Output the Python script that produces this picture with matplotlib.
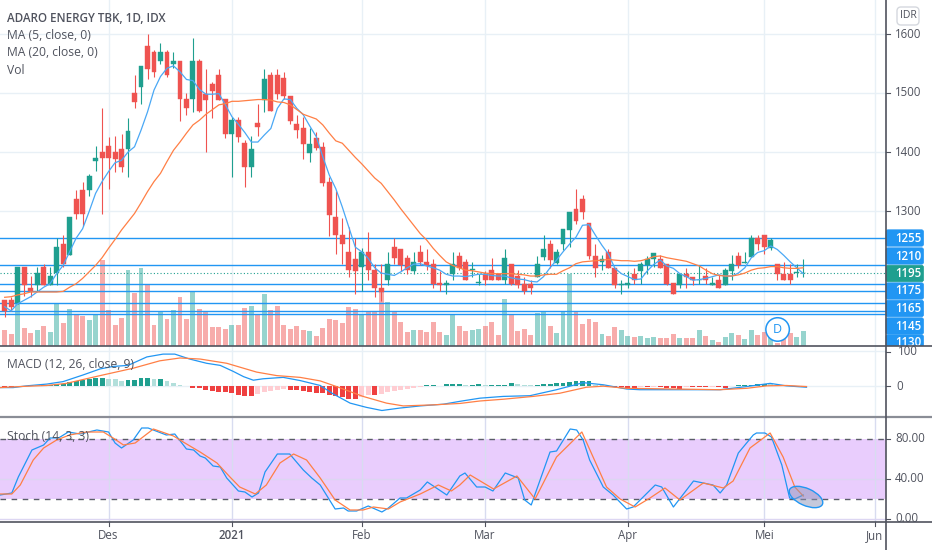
import matplotlib
matplotlib.use('Agg')
import matplotlib.pyplot as plt
import numpy as np
from matplotlib.patches import Ellipse, FancyBboxPatch
from matplotlib.transforms import Bbox

plt.rcParams['font.family'] = ['Open Sans', 'DejaVu Sans']

# price candles, one value per bar
opens = [1150,1150,1145,1205,1170,1175,1205,1175,1195,1245,1225,1320,1335,1335,1385,1400,1410,1400,1405,1405,
         1500,1510,1580,1570,1555,1570,1550,1555,1490,1490,1555,1498,1515,1530,1490,1430,1455,1415,1375,1449,
         1488,1530,1530,1525,1495,1448,1440,1399,1424,1409,1350,1290,1260,1230,1219,1205,1230,1200,1170,1183,
         1240,1235,1220,1199,1230,1214,1210,1179,1175,1193,1224,1214,1200,1178,1194,1200,1194,1183,1210,1190,
         1176,1176,1188,1223,1245,1212,1244,1268,1304,1320,1280,1224,1213,1230,1204,1175,1175,1194,1199,1208,
         1219,1219,1210,1179,1175,1194,1189,1183,1190,1175,1184,1175,1199,1224,1212,1222,1254,1259,1238,1210,
         1194,1194,1195,1195]
highs = [1150,1155,1205,1205,1190,1205,1210,1205,1255,1260,1290,1335,1350,1363,1410,1475,1425,1427,1430,1458,
         1530,1545,1600,1573,1585,1573,1570,1555,1500,1593,1558,1540,1518,1540,1490,1460,1460,1420,1428,1482,
         1540,1535,1540,1535,1495,1462,1460,1440,1434,1417,1358,1334,1289,1273,1254,1237,1264,1210,1211,1230,
         1255,1235,1225,1230,1242,1235,1219,1199,1184,1230,1230,1219,1214,1194,1199,1220,1194,1235,1210,1200,
         1189,1184,1224,1259,1251,1235,1269,1299,1338,1328,1280,1245,1225,1235,1204,1184,1199,1204,1214,1224,
         1229,1225,1210,1179,1194,1204,1189,1208,1204,1189,1192,1204,1225,1230,1230,1259,1259,1259,1255,1210,
         1214,1210,1210,1219]
lows = [1120,1130,1143,1157,1155,1165,1175,1175,1175,1205,1225,1287,1275,1325,1368,1295,1338,1367,1366,1358,
        1474,1482,1523,1527,1550,1527,1542,1453,1463,1468,1468,1400,1458,1488,1423,1358,1417,1340,1358,1428,
        1468,1470,1490,1490,1448,1424,1389,1384,1403,1343,1258,1228,1211,1188,1159,1164,1183,1154,1147,1175,
        1211,1199,1194,1194,1208,1200,1169,1165,1159,1184,1200,1183,1188,1175,1175,1183,1183,1177,1175,1169,
        1159,1159,1188,1218,1204,1210,1234,1240,1279,1287,1219,1188,1200,1204,1169,1159,1169,1177,1177,1194,
        1206,1204,1175,1159,1169,1170,1175,1177,1176,1175,1170,1175,1183,1204,1212,1222,1234,1228,1234,1184,
        1183,1177,1188,1188]
closes = [1130,1138,1205,1175,1165,1195,1175,1190,1240,1210,1290,1295,1295,1360,1390,1390,1390,1388,1375,1435,
          1485,1545,1540,1535,1570,1530,1555,1490,1475,1555,1470,1488,1503,1488,1430,1455,1425,1375,1405,1443,
          1523,1470,1498,1495,1453,1438,1413,1413,1407,1348,1293,1260,1245,1200,1199,1230,1200,1170,1163,1210,
          1220,1208,1200,1213,1213,1208,1177,1175,1179,1210,1204,1183,1202,1180,1184,1183,1183,1220,1177,1175,
          1165,1169,1210,1235,1218,1230,1269,1299,1283,1299,1224,1204,1219,1204,1175,1176,1179,1184,1210,1219,
          1229,1204,1177,1159,1194,1189,1183,1184,1184,1179,1170,1200,1210,1208,1214,1255,1245,1240,1251,1194,
          1183,1183,1197,1196]
volumes = [49,37,127,55,40,47,59,42,127,70,112,92,89,79,92,257,109,64,85,229,
           159,235,185,64,102,82,107,147,80,164,112,103,57,58,50,64,64,115,119,94,
           157,107,119,62,52,61,49,46,30,55,82,79,70,116,110,94,103,102,167,131,
           102,73,42,49,47,42,73,42,33,97,59,46,49,52,59,73,33,141,92,46,
           52,33,98,103,59,40,103,216,103,65,82,71,37,31,56,49,31,27,31,24,
           27,25,25,37,24,24,24,49,31,17,13,27,40,33,21,47,33,42,27,9,
           27,40,27,46]

ma5 = [1138,1131,1143,1149,1155,1163,1171,1177,1194,1208,1231,1254,1270,1299,1330,1350,1367,1382,1386,1400,
       1409,1437,1468,1505,1528,1542,1546,1536,1523,1521,1506,1498,1498,1499,1480,1460,1447,1433,1417,1417,
       1429,1440,1474,1490,1489,1474,1463,1444,1426,1392,1361,1338,1307,1273,1239,1231,1220,1204,1195,1193,
       1191,1197,1204,1210,1211,1207,1204,1200,1193,1190,1190,1189,1191,1193,1193,1191,1190,1190,1187,1185,
       1184,1181,1180,1189,1204,1217,1231,1244,1256,1276,1277,1259,1242,1227,1203,1194,1189,1184,1185,1199,
       1210,1217,1207,1203,1194,1189,1183,1184,1186,1189,1192,1190,1190,1195,1204,1221,1230,1233,1241,1235,
       1225,1214,1204,1194]
ma20 = [1154,1155,1158,1160,1163,1163,1163,1163,1163,1164,1171,1177,1186,1197,1208,1221,1237,1252,1268,1282,
        1296,1314,1333,1350,1364,1384,1403,1417,1432,1446,1454,1464,1472,1480,1482,1486,1486,1487,1488,1489,
        1489,1488,1485,1484,1480,1472,1464,1460,1456,1446,1432,1419,1415,1403,1391,1380,1368,1356,1347,1333,
        1319,1304,1290,1276,1262,1251,1237,1225,1214,1208,1204,1200,1199,1197,1195,1194,1194,1194,1194,1193,
        1192,1190,1190,1192,1193,1193,1199,1204,1211,1214,1215,1216,1217,1218,1217,1216,1216,1215,1216,1219,
        1223,1224,1221,1219,1217,1215,1211,1207,1200,1194,1191,1190,1190,1192,1195,1200,1203,1204,1206,1206,
        1204,1203,1203,1204]

level_lines = [1255, 1208, 1177, 1165, 1145, 1130, 1125]
last_price = 1195
price_labels = ['1255', '1210', '1195', '1175', '1165', '1145', '1130']

macd_hist = [-3,-3,0,1,3,2,2,2,5,5,12,15,17,20,22,23,20,19,16,18,
             18,23,23,20,20,14,10,4,0,-4,-4,-12,-13,-16,-17,-20,-24,-27,-28,-23,
             -16,-13,-10,-8,-10,-11,-14,-17,-19,-20,-25,-28,-32,-35,-35,-30,-26,-26,-22,-17,
             -13,-10,-7,-4,-1,3,3,1,5,5,5,3,4,6,3,3,3,4,9,5,
             4,2,2,5,7,8,8,11,14,15,15,3,2,1,-1,-3,-5,-6,-3,-3,
             -2,-2,-4,-6,-7,-3,-3,-3,-3,-2,-3,-5,1,2,3,4,6,6,5,4,
             2,1,-2,-2]
macd_x = [-0.7,1.3,3.4,6.5,9,12.1,14.7,16.7,19,21.9,24.4,26.2,28.5,31.1,33.2,35.2,36.8,38.3,39.8,42.9,
          45.5,48.6,50.6,53.2,55.7,58.1,60.9,64,67.6,70.1,73.2,76.8,80.9,85,89.1,92.2,95.8,97.8,103,110.2,
          114.3,117.9,120.4,123.5]
macd_y = [-4,-4,1,6,13,32,49,56,59,83,91,91,77,65,59,42,27,17,21,25,
          16,2,-22,-48,-60,-69,-62,-56,-51,-43,-34,-29,-27,-10,10,4,-8,-10,-10,-10,
          -1,8,1,-3]
signal_x = [-0.7,2.4,6.5,9.5,14.7,19.8,23.9,27,30.1,34.2,38.8,41.9,45.5,48.6,51.1,55.2,58.8,61.4,66,70.1,
            73.2,76.8,81.4,85.5,89.6,92.2,95.8,103,110.2,114.3,117.4,120.4,123.5]
signal_y = [-4,-1,2,8,30,51,72,80,77,65,40,30,25,15,-1,-29,-48,-56,-53,-49,
            -42,-37,-29,-20,-3,0,-6,-8,-10,-6,1,2,-1]

stoch_k_x = [-0.7,1.1,2.1,4.2,6,7,8.3,9.8,11.6,14.2,16,17,18,19.8,21.1,22.1,24.9,26.2,28,29.1,
             30.1,30.9,32.1,33.2,34.2,36,37,38.1,39.1,40.1,42,43.9,46,47.3,48.6,50.9,52.2,52.9,54.2,56,
             58.1,59.1,60.9,61.9,64,65.1,68.1,70.1,70.9,72.7,74,75.2,77.1,79.1,80.1,81.1,84,85,87.1,88.1,
             89.1,90.1,92.2,93.7,95.8,96.8,100.2,101.2,103,106.1,107.6,109.1,110.2,111.2,113,115.3,115.8,117.1,118.1,119.7,
             120.9,121.7,123]
stoch_k_y = [24,26,42,69,74,81,81,87,85,89,87,76,71,79,91,91,84,85,70,69,
             63,61,53,52,41,28,27,22,26,47,65,65,49,41,34,10,11,8,8,13,
             7,11,21,21,29,37,24,43,46,32,32,28,46,41,19,14,67,68,90,89,
             79,59,32,24,10,12,34,32,12,38,36,34,26,34,66,84,86,86,82,54,
             21,20,24]
stoch_d_x = [-0.7,1.1,2.4,4.4,6,8,10,12.6,15.2,16.7,18.3,20.1,22.9,26,27.5,30.1,32.7,34.7,36.2,38.6,
             40.3,42.4,44.5,46.5,48.6,50.9,53.2,55.2,56.8,59.1,60.9,64,66.8,68.8,70.1,71.7,75.3,78.9,81.7,85,
             88.9,90.7,92.7,94.8,97.1,99.4,101.7,104,107.6,110.7,112.2,114.8,117.9,119.9,121.7,123]
stoch_d_y = [25,25,34,59,71,79,84,87,87,81,74,76,90,83,77,67,56,42,32,25,
             34,56,65,59,41,19,9,9,12,10,17,25,34,28,34,44,30,43,20,62,
             87,61,32,20,12,21,31,19,36,31,38,71,86,62,32,23]

month_pos = [16, 35, 55, 74, 96, 117, 134]
month_names = ['Des', '2021', 'Feb', 'Mar', 'Apr', 'Mei', 'Jun']

UP = '#1f9f8f'
DOWN = '#ef5350'
BLUE = '#2196f3'
ORANGE = '#ff7f45'
GRID = '#e8f0f6'
AXIS = '#50535e'
TXT = '#50535e'
W, H = 932, 550


def axes_px(top, bottom, right=885.7):
    return [0, 1 - bottom / H, right / W, (bottom - top) / H]


def clean(a):
    a.set_xticks([])
    a.set_yticks([])
    for s in a.spines.values():
        s.set_visible(False)


n = len(closes)
idx = np.arange(n)
o, h, l, c = map(np.array, (opens, highs, lows, closes))
rising = c >= o
candle_col = np.where(rising, UP, DOWN)
xlim = (-0.72, 135.7)

fig = plt.figure(figsize=(W / 100, H / 100), dpi=100)

vol_ax = fig.add_axes(axes_px(0, 346))
vol_ax.bar(idx, volumes, width=0.76, color=np.where(rising, '#26a69a', '#ef5350'), alpha=0.48, linewidth=0)
vol_ax.set_ylim(0, 1038)
vol_ax.set_xlim(xlim)
for m in month_pos:
    vol_ax.axvline(m, color=GRID, lw=1, zorder=0)
clean(vol_ax)

ax = fig.add_axes(axes_px(0, 346))
ax.patch.set_visible(False)
ax.set_xlim(xlim)
ax.set_ylim(1071.5, 1657.6)
for p in [1300, 1400, 1500, 1600]:
    ax.axhline(p, color=GRID, lw=1, zorder=0)
for lv in level_lines:
    ax.axhline(lv, color=BLUE, lw=1.0, zorder=2)
ax.axhline(last_price, color=UP, lw=0.8, ls=(0, (1, 2)), zorder=2)
ax.vlines(idx, l, h, colors=candle_col, lw=0.8, zorder=3)
ax.bar(idx, np.abs(c - o), bottom=np.minimum(o, c), width=0.76, color=candle_col,
       edgecolor=candle_col, linewidth=0.3, zorder=4)
ax.plot(idx, ma5, color='#4aa8f5', lw=0.9, zorder=5)
ax.plot(idx, ma20, color=ORANGE, lw=0.9, zorder=5)
ax.text(119.05, 1099.5, 'D', color=BLUE, fontsize=9, ha='center', va='center', zorder=7,
        bbox=dict(boxstyle='circle,pad=0.42', fc='white', ec=BLUE, lw=1.1))
clean(ax)

macd_ax = fig.add_axes(axes_px(346, 416.5))
macd_ax.set_xlim(xlim)
macd_ax.set_ylim(-86, 114)
for m in month_pos:
    macd_ax.axvline(m, color=GRID, lw=1, zorder=0)
macd_ax.axhline(0, color=GRID, lw=1, zorder=0)
macd_ax.axhline(100, color=GRID, lw=1, zorder=0)
hist = np.array(macd_hist)
prev = np.r_[hist[0], hist[:-1]]
hist_col = []
for v, pv in zip(hist, prev):
    if v >= 0:
        hist_col.append('#1f9f8f' if v >= pv else '#b2dfdb')
    else:
        hist_col.append('#ef4040' if v <= pv else '#ffcdd2')
macd_ax.bar(idx, hist, width=0.76, color=hist_col, linewidth=0, zorder=2)
macd_ax.plot(macd_x, macd_y, color=BLUE, lw=0.9, zorder=3)
macd_ax.plot(signal_x, signal_y, color=ORANGE, lw=0.9, zorder=3)
clean(macd_ax)

st_ax = fig.add_axes(axes_px(416.5, 521.7))
st_ax.set_xlim(xlim)
st_ax.set_ylim(-2.7, 102.5)
st_ax.axhspan(20, 80, color='#e9cdfd', lw=0, zorder=1)
for m in month_pos:
    st_ax.axvline(m, color='#d8dcf0', lw=1, zorder=1.5)
for lv in [0, 40]:
    st_ax.axhline(lv, color='#dcd6f2', lw=1, zorder=1.5)
st_ax.axhline(80, color='#5a5d68', lw=1, ls=(0, (4, 4)), zorder=2)
st_ax.axhline(20, color='#5a5d68', lw=1, ls=(0, (4, 4)), zorder=2)
st_ax.plot(stoch_k_x, stoch_k_y, color=BLUE, lw=0.9, zorder=3)
st_ax.plot(stoch_d_x, stoch_d_y, color=ORANGE, lw=0.9, zorder=3)
clean(st_ax)

# overlay in pixel coordinates for the chart furniture
ov = fig.add_axes([0, 0, 1, 1], zorder=10)
ov.set_xlim(0, W)
ov.set_ylim(H, 0)
ov.axis('off')
ov.patch.set_visible(False)

ov.add_patch(Ellipse((806, 497), 36, 17, angle=24, fc=(0.55, 0.58, 0.72, 0.5), ec=BLUE, lw=1.0, zorder=3))

ov.text(7, 18, 'ADARO ENERGY TBK, 1D, IDX', color=TXT, fontsize=8.4, fontweight='semibold', va='center')
ov.text(7, 35.5, 'MA (5, close, 0)', color=TXT, fontsize=8.7, va='center')
ov.text(7, 53, 'MA (20, close, 0)', color=TXT, fontsize=8.7, va='center')
ov.text(7, 70, 'Vol', color=TXT, fontsize=8.7, va='center')
ov.text(7, 365, 'MACD (12, 26, close, 9)', color=TXT, fontsize=8.7, va='center')
ov.text(7, 436, 'Stoch (14, 3, 3)', color=TXT, fontsize=8.7, va='center')

# labels are cut off at the pane borders, clip boxes are in display pixels
main_clip = Bbox([[880, H - 346], [W, H]])
stoch_clip = Bbox([[880, H - 521.7], [W, H]])

for p, yy in zip(['1600', '1500', '1400', '1300'], [34, 93, 152, 211.3]):
    ov.plot([885.7, 890], [yy, yy], color=AXIS, lw=0.8)
    ov.text(895, yy, p, color=TXT, fontsize=8.3, va='center')
label_px = [238, 256, 273.5, 291, 308.5, 326, 343]
for t, yy in zip(price_labels, label_px):
    col = UP if t == str(last_price) else BLUE
    box = FancyBboxPatch((886, yy - 8.2), 37.5, 16.4, boxstyle='round,pad=0,rounding_size=2',
                         fc=col, ec=col, lw=0.5, zorder=4)
    ov.add_patch(box)
    box.set_clip_box(main_clip)
    lab = ov.text(895, yy, t, color='white', fontsize=8.3, fontweight='semibold', va='center', zorder=5,
                  clip_on=True)
    lab.set_clip_box(main_clip)
ov.add_patch(FancyBboxPatch((897, 7), 22, 18, boxstyle='round,pad=0,rounding_size=4',
                            fc='white', ec='#d5d8de', lw=1))
ov.text(908, 16, 'IDR', color=TXT, fontsize=7.6, ha='center', va='center')

for t, yy in zip(['100', '0'], [351.5, 386.3]):
    ov.plot([885.7, 890], [yy, yy], color=AXIS, lw=0.8)
    ov.text(898 if t == '100' else 896, yy, t, color=TXT, fontsize=8.3, va='center', zorder=5)
for t, yy in zip(['80.00', '40.00', '0.00'], [439, 479, 519]):
    ov.plot([885.7, 890], [yy, yy], color=AXIS, lw=0.8)
    lab = ov.text(895, yy, t, color=TXT, fontsize=8.3, va='center', zorder=5, clip_on=True)
    lab.set_clip_box(stoch_clip)

ov.plot([0, W], [346, 346], color=AXIS, lw=1.2, zorder=7)
ov.plot([0, W], [416.5, 416.5], color='#8a8d96', lw=1.6, zorder=7)
ov.plot([0, W], [521.7, 521.7], color=AXIS, lw=1.2, zorder=7)
ov.plot([885.7, 885.7], [0, H], color=AXIS, lw=1.2, zorder=7)

for m, name in zip(month_pos, month_names):
    px = (m - xlim[0]) / (xlim[1] - xlim[0]) * 885.7
    ov.plot([px, px], [521.7, 526], color=AXIS, lw=0.8, zorder=7)
    ov.text(px, 535.5, name, color=TXT, fontsize=8.3, ha='center', va='center',
            fontweight='semibold' if name == '2021' else 'normal', zorder=7)

fig.savefig('out.png', dpi=100)
